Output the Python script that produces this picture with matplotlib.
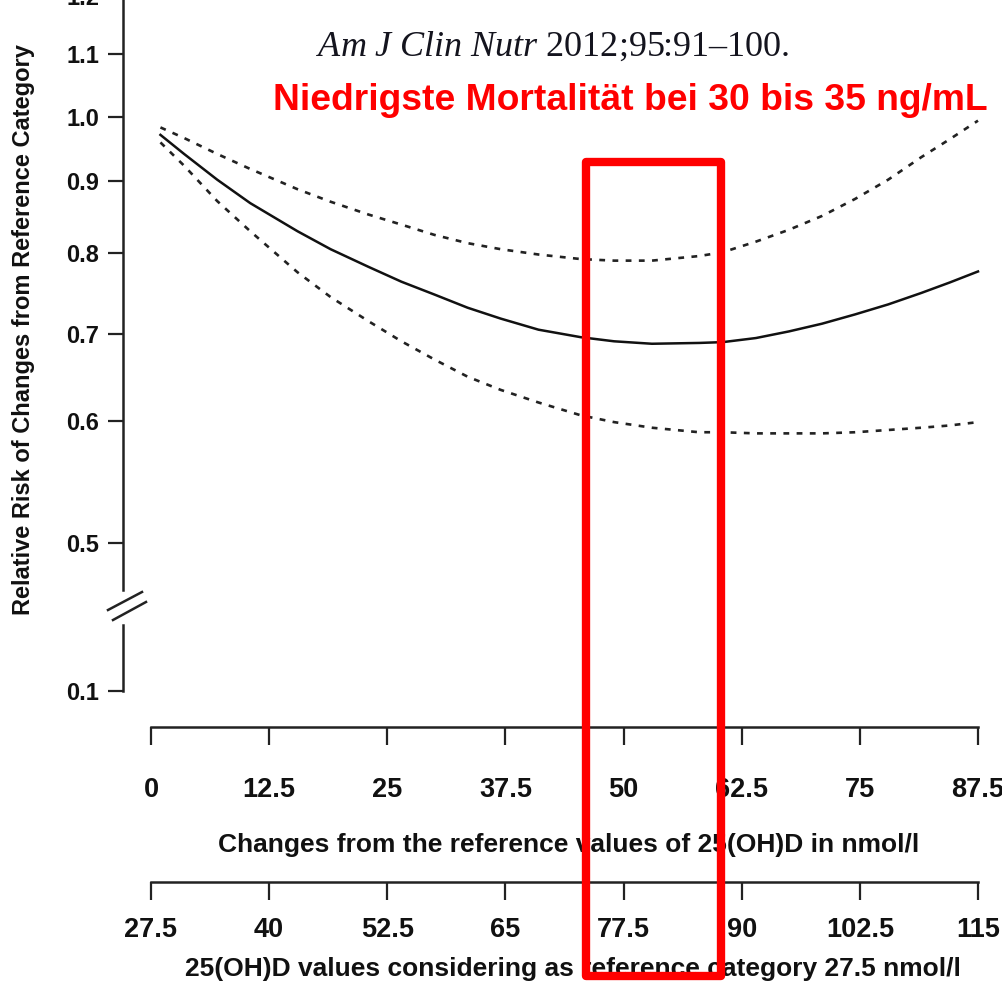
import numpy as np
import matplotlib
matplotlib.use("Agg")
import matplotlib.pyplot as plt
from matplotlib.lines import Line2D
from matplotlib.patches import Rectangle

# Data (relative risk vs change of 25(OH)D in nmol/l)
change_x = [1, 3.5, 7, 10.5, 15.5, 19, 23, 26.5, 30, 33.5, 37, 41, 45.5, 49, 53, 58,
            60.5, 64, 67.5, 71, 74.5, 78, 81.5, 84.5, 87.5]
rr_mid = [0.971, 0.941, 0.902, 0.868, 0.829, 0.805, 0.782, 0.763, 0.747, 0.731, 0.718,
          0.705, 0.696, 0.691, 0.688, 0.689, 0.690, 0.695, 0.703, 0.712, 0.723, 0.735,
          0.749, 0.762, 0.776]
rr_upper = [0.983, 0.966, 0.941, 0.918, 0.888, 0.870, 0.852, 0.838, 0.824, 0.813, 0.805,
            0.798, 0.792, 0.790, 0.790, 0.796, 0.801, 0.815, 0.831, 0.850, 0.874, 0.902,
            0.936, 0.964, 0.994]
rr_lower = [0.959, 0.923, 0.871, 0.829, 0.775, 0.744, 0.715, 0.691, 0.669, 0.649, 0.634,
            0.620, 0.606, 0.599, 0.594, 0.590, 0.590, 0.589, 0.589, 0.589, 0.590, 0.592,
            0.594, 0.596, 0.599]

y_ticks = [0.5, 0.6, 0.7, 0.8, 0.9, 1.0, 1.1, 1.2]
x1_ticks = [0, 12.5, 25, 37.5, 50, 62.5, 75, 87.5]
x1_labels = ["0", "12.5", "25", "37.5", "50", "62.5", "75", "87.5"]
x2_ticks = [27.5, 40, 52.5, 65, 77.5, 90, 102.5, 115]
x2_labels = ["27.5", "40", "52.5", "65", "77.5", "90", "102.5", "115"]

# the red box marks the range with the lowest mortality (in x1 units)
box_x = [46.0, 60.3]

W, H = 1003, 983
fig = plt.figure(figsize=(W / 100, H / 100), dpi=100)
fig.patch.set_facecolor("white")

def fx(px):
    return px / W

def fy(py):
    return 1 - py / H

ink = "#222222"
font = "Liberation Sans"

# pixel positions of the x axis (0 -> 87.5)
x_left, x_right = 151, 978
per_unit = (x_right - x_left) / 87.5

# the y axis of the scan is roughly logarithmic but not evenly spaced,
# so the scale goes through the pixel rows of its tick marks
scale_vals = np.log([0.45, 0.5, 0.6, 0.7, 0.8, 0.9, 1.0, 1.1, 1.2, 1.3])
scale_rows = -np.array([608, 543, 421, 334, 253, 181, 117, 54, -4, -54], dtype=float)

def rr_forward(v):
    v = np.maximum(np.asarray(v, dtype=float), 1e-6)
    return np.interp(np.log(v), scale_vals, scale_rows)

def rr_inverse(y):
    return np.exp(np.interp(np.asarray(y, dtype=float), scale_rows, scale_vals))

def style_left(a):
    # only the left spine, bold tick labels
    a.patch.set_visible(False)
    for s in ["top", "right", "bottom"]:
        a.spines[s].set_visible(False)
    a.spines["left"].set_linewidth(1.8)
    a.spines["left"].set_color(ink)
    a.set_xticks([])
    a.tick_params(axis="y", length=11, width=1.6, color=ink, pad=6, labelsize=17)
    for lab in a.get_yticklabels():
        lab.set_fontweight("bold")
        lab.set_fontfamily(font)
        lab.set_color("#111111")

# main panel (broken below 0.5), from pixel row -8 down to 590
ax = fig.add_axes([fx(123), fy(590), fx(990 - 123), (590 + 8) / H])
ax.set_yscale("function", functions=(rr_forward, rr_inverse))
ax.set_ylim(float(rr_inverse(-590)), float(rr_inverse(8)))
ax.set_xlim((123 - x_left) / per_unit, (990 - x_left) / per_unit)
ax.yaxis.set_minor_locator(matplotlib.ticker.NullLocator())
ax.set_yticks(y_ticks)
ax.set_yticklabels(["%.1f" % v for v in y_ticks])
style_left(ax)

ax.plot(change_x, rr_mid, color="#111111", lw=1.8)
ax.plot(change_x, rr_upper, color=ink, lw=1.9, linestyle=(0, (2.2, 2.8)))
ax.plot(change_x, rr_lower, color=ink, lw=1.9, linestyle=(0, (2.2, 2.8)))

# little piece of the axis below the break, only 0.1
ax_low = fig.add_axes([fx(123), fy(691), fx(990 - 123), 66 / H])
ax_low.set_ylim(0.1, 0.11)
ax_low.set_yticks([0.1])
ax_low.set_yticklabels(["0.1"])
style_left(ax_low)

# break marks
for (a, b), (c, d) in [((108, 610), (142, 592)), ((113, 620), (146, 602))]:
    fig.add_artist(Line2D([fx(a), fx(c)], [fy(b), fy(d)], color=ink, lw=1.8))

# two x axes below the plot
def bottom_axis(py, lo, hi, ticks, labels, pad):
    a = fig.add_axes([fx(x_left), fy(py), fx(x_right - x_left), 0.0005])
    a.set_xlim(lo, hi)
    a.patch.set_visible(False)
    for s in ["top", "right", "left"]:
        a.spines[s].set_visible(False)
    a.spines["bottom"].set_linewidth(1.8)
    a.spines["bottom"].set_color(ink)
    a.set_yticks([])
    a.set_xticks(ticks)
    a.set_xticklabels(labels)
    a.tick_params(axis="x", length=13, width=1.6, color=ink, pad=pad, labelsize=19.5)
    for lab in a.get_xticklabels():
        lab.set_fontweight("bold")
        lab.set_fontfamily(font)
        lab.set_color("#111111")
    return a

bottom_axis(727, 0, 87.5, x1_ticks, x1_labels, 23)
bottom_axis(882, 27.5, 115, x2_ticks, x2_labels, 12)

fig.text(fx(569), fy(845), "Changes from the reference values of 25(OH)D in nmol/l",
         ha="center", va="center", fontsize=19, fontweight="bold", family=font,
         color="#111111", zorder=5)
fig.text(fx(573), fy(969), "25(OH)D values considering as reference category 27.5 nmol/l",
         ha="center", va="center", fontsize=19, fontweight="bold", family=font,
         color="#111111", zorder=5)
fig.text(fx(24), fy(330), "Relative Risk of Changes from Reference Category",
         ha="center", va="center", rotation=90, fontsize=17, fontweight="bold",
         family=font, color="#111111", zorder=5)

# citation and the red note
plt.rcParams["mathtext.fontset"] = "custom"
plt.rcParams["mathtext.it"] = "Liberation Serif:italic"
plt.rcParams["mathtext.rm"] = "Liberation Serif"
fig.text(fx(316), fy(47), r"$\mathit{Am\ J\ Clin\ Nutr}$ 2012;95:91–100.",
         ha="left", va="center", fontsize=26, family="Liberation Serif", color="#14141e")
fig.text(fx(273), fy(101), "Niedrigste Mortalität bei 30 bis 35 ng/mL",
         ha="left", va="center", fontsize=26.8, fontweight="bold", family=font,
         color="#ff0000", zorder=5)

# red box
bx0 = fx(x_left + box_x[0] * per_unit)
bx1 = fx(x_left + box_x[1] * per_unit)
fig.add_artist(Rectangle((bx0, fy(976)), bx1 - bx0, fy(162) - fy(976),
                         fill=False, edgecolor="#ff0000", lw=6, joinstyle="round",
                         zorder=10))

fig.savefig("out.png", dpi=100)
